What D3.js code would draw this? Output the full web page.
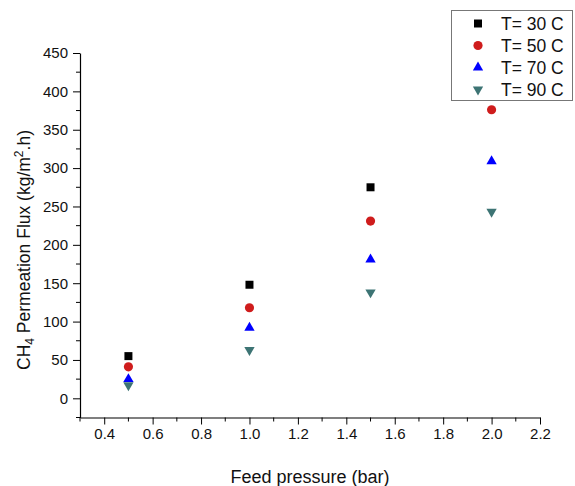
<!DOCTYPE html>
<html>
<head>
<meta charset="utf-8">
<script src="https://cdn.jsdelivr.net/npm/d3@7"></script>
<style>
  html, body { margin: 0; padding: 0; background: #fff; }
  svg { display: block; font-family: "Liberation Sans", Arial, sans-serif; }
</style>
</head>
<body>
<svg id="chart" width="575" height="486"></svg>
<script>
// Feed pressure (bar)
const pressures = [0.5, 1.0, 1.5, 2.0];

// CH4 permeation flux (kg/m2.h) per temperature
const flux30 = [55, 148, 275, 435];
const flux50 = [41, 118, 231, 376];
const flux70 = [25, 92, 181, 309];
const flux90 = [17, 63, 138, 243];

const seriesNames = ["T= 30 C", "T= 50 C", "T= 70 C", "T= 90 C"];

const xTickValues = [0.4, 0.6, 0.8, 1.0, 1.2, 1.4, 1.6, 1.8, 2.0, 2.2];
const yTickValues = [0, 50, 100, 150, 200, 250, 300, 350, 400, 450];

const series = [
  { name: seriesNames[0], values: flux30, symbol: d3.symbolSquare, size: 64, color: "#000000", rotate: 0 },
  { name: seriesNames[1], values: flux50, symbol: d3.symbolCircle, size: 66, color: "#cf1c1c", rotate: 0 },
  { name: seriesNames[2], values: flux70, symbol: d3.symbolTriangle, size: 46, color: "#0000ff", rotate: 0 },
  { name: seriesNames[3], values: flux90, symbol: d3.symbolTriangle, size: 46, color: "#3d7474", rotate: 180 }
];

const svg = d3.select("#chart");

const x = d3.scaleLinear().domain([0.3, 2.2]).range([80, 540]);
const y = d3.scaleLinear().domain([-25, 450]).range([417.5, 53]);

const fmtX = d3.format(".1f");

// Minor ticks
const xMinor = d3.range(3, 22, 2).map(v => v / 10);
const yMinor = d3.range(-25, 450, 50);

const xAxisG = svg.append("g").attr("transform", `translate(0,${y(-25)})`);
xAxisG.call(d3.axisBottom(x).tickValues(xTickValues).tickFormat(fmtX).tickSize(7).tickPadding(4).tickSizeOuter(0));
xAxisG.append("g").selectAll("line").data(xMinor).join("line")
  .attr("x1", d => x(d)).attr("x2", d => x(d))
  .attr("y1", 0).attr("y2", 4)
  .attr("stroke", "#000");

const yAxisG = svg.append("g").attr("transform", `translate(${x(0.3)},0)`);
yAxisG.call(d3.axisLeft(y).tickValues(yTickValues).tickSize(7).tickPadding(5).tickSizeOuter(0));
yAxisG.append("g").selectAll("line").data(yMinor).join("line")
  .attr("y1", d => y(d)).attr("y2", d => y(d))
  .attr("x1", 0).attr("x2", -4)
  .attr("stroke", "#000");

svg.selectAll(".domain").attr("stroke", "#000").attr("stroke-width", 1.2);
svg.selectAll(".tick line").attr("stroke", "#000");
svg.selectAll(".tick text")
  .attr("font-size", 15)
  .attr("font-family", "Liberation Sans, Arial, sans-serif")
  .attr("fill", "#111");

// Axis titles
svg.append("text")
  .attr("x", 310).attr("y", 483)
  .attr("text-anchor", "middle")
  .attr("font-size", 18)
  .attr("fill", "#111")
  .text("Feed pressure (bar)");

const yTitle = svg.append("text")
  .attr("transform", "translate(30,250) rotate(-90)")
  .attr("text-anchor", "middle")
  .attr("font-size", 17.5)
  .attr("fill", "#111");
yTitle.append("tspan").text("CH");
yTitle.append("tspan").attr("font-size", 12).attr("dy", 4).text("4");
yTitle.append("tspan").attr("dy", -4).text(" Permeation Flux (kg/m");
yTitle.append("tspan").attr("font-size", 12).attr("dy", -7).text("2");
yTitle.append("tspan").attr("dy", 7).text(".h)");

// Data markers
series.forEach(s => {
  const sym = d3.symbol().type(s.symbol).size(s.size);
  svg.append("g").selectAll("path")
    .data(pressures.map((p, i) => [p, s.values[i]]))
    .join("path")
    .attr("d", sym)
    .attr("transform", d => `translate(${x(d[0])},${y(d[1])}) rotate(${s.rotate})`)
    .attr("fill", s.color);
});

// Legend
const legend = svg.append("g");
legend.append("rect")
  .attr("x", 451.5).attr("y", 10.5)
  .attr("width", 121).attr("height", 90)
  .attr("fill", "#fff")
  .attr("stroke", "#777")
  .attr("stroke-width", 1);

series.forEach((s, i) => {
  const cy = 23.5 + i * 22;
  const sym = d3.symbol().type(s.symbol).size(s.size);
  legend.append("path")
    .attr("d", sym)
    .attr("transform", `translate(478,${cy}) rotate(${s.rotate})`)
    .attr("fill", s.color);
  legend.append("text")
    .attr("x", 501).attr("y", cy + 6)
    .attr("font-size", 17.5)
    .attr("fill", "#111")
    .text(s.name);
});
</script>
</body>
</html>
